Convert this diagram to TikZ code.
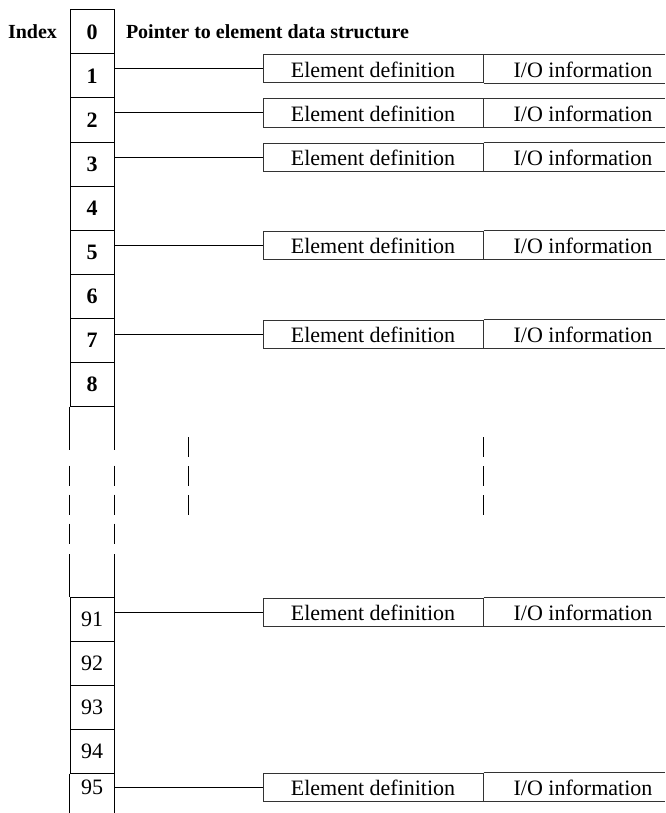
\documentclass[tikz,border=0pt]{standalone}
\usepackage{fontspec}
\setmainfont{Liberation Serif}
\usetikzlibrary{positioning}
\tikzset{
cell/.style = {draw, rectangle, minimum width=22pt, minimum height=22pt, inner sep=0pt, font=\fontsize{11}{13}\selectfont\bfseries},
opencell/.style = {rectangle, minimum width=22pt, minimum height=20pt, inner sep=0pt, font=\fontsize{11}{13}\selectfont},
head/.style = {inner sep=0pt, font=\fontsize{10}{12}\selectfont\bfseries},
defbox/.style = {draw=black!80, rectangle, minimum width=110pt, minimum height=14pt, inner sep=0pt, text height=2ex, text depth=0.1ex, font=\fontsize{11}{13}\selectfont},
iobox/.style = {rectangle, minimum width=99pt, minimum height=14pt, inner sep=0pt, text height=2ex, text depth=0.1ex, font=\fontsize{11}{13}\selectfont},
boxline/.style = {draw=black!80},
gapline/.style = {dash pattern=on 10pt off 4.5pt},
}

\begin{document}
\begin{tikzpicture}[x=0.5pt,y=-0.5pt,line width=0.5pt]
        \useasboundingbox (0,0) rectangle (665,813);
        \coordinate (edge) at (665,0);

        % index table, top part
        \node [cell] (c0) at (92,32) {0};
        \node [head, left=6pt of c0] (index) {Index};
        \node [head, right=5.5pt of c0] (ptr) {Pointer to element data structure};
        \node [cell] (c1) at (92,76) {1};
        \node [cell] (c2) at (92,120) {2};
        \node [cell] (c3) at (92,164) {3};
        \node [cell] (c4) at (92,208) {4};
        \node [cell] (c5) at (92,252) {5};
        \node [cell] (c6) at (92,296) {6};
        \node [cell] (c7) at (92,340) {7};
        \node [cell] (c8) at (92,384) {8};

        % index table, bottom part
        \node [cell, font=\fontsize{11}{13}\selectfont] (c91) at (92,619) {91};
        \node [cell, font=\fontsize{11}{13}\selectfont] (c92) at (92,663) {92};
        \node [cell, font=\fontsize{11}{13}\selectfont] (c93) at (92,707) {93};
        \node [cell, font=\fontsize{11}{13}\selectfont] (c94) at (92,751) {94};
        \node [opencell] (c95) at (92,787) {95};

        % column between 8 and 91
        \draw (c8.south west) -- ++(0,43) (c8.south east) -- ++(0,43);
        \draw[gapline] (c8.south west) ++(0,59) -- ++(0,80);
        \draw[gapline] (c8.south east) ++(0,59) -- ++(0,80);
        \draw (c91.north west) -- ++(0,-43) (c91.north east) -- ++(0,-43);
        % open end below 95
        \draw (c94.south west) -- ++(0,41) (c94.south east) -- ++(0,41);

        % element records
        \node [defbox, right=74pt of c1, yshift=3.5pt] (d1) {Element definition};
        \node [iobox, right=0pt of d1] (o1) {I/O information};
        \node [defbox, right=74pt of c2, yshift=3.5pt] (d2) {Element definition};
        \node [iobox, right=0pt of d2] (o2) {I/O information};
        \node [defbox, right=74pt of c3, yshift=3.5pt] (d3) {Element definition};
        \node [iobox, right=0pt of d3] (o3) {I/O information};
        \node [defbox, right=74pt of c5, yshift=3.5pt] (d5) {Element definition};
        \node [iobox, right=0pt of d5] (o5) {I/O information};
        \node [defbox, right=74pt of c7, yshift=3pt] (d7) {Element definition};
        \node [iobox, right=0pt of d7] (o7) {I/O information};
        \node [defbox, right=74pt of c91, yshift=3.5pt] (d91) {Element definition};
        \node [iobox, right=0pt of d91] (o91) {I/O information};
        \node [defbox, right=74pt of c95] (d95) {Element definition};
        \node [iobox, right=0pt of d95] (o95) {I/O information};

        %I/O part runs off to the right
        \foreach \r in {1,2,3,5,7,91,95}{
          \draw[boxline] (o\r.north west) -- (o\r.north west -| edge);
          \draw[boxline] (o\r.south west) -- (o\r.south west -| edge);
        }

        %pointers
        \draw (c1.east |- d1.west) -- (d1.west);
        \draw (c2.east |- d2.west) -- (d2.west);
        \draw (c3.east |- d3.west) -- (d3.west);
        \draw (c5.east |- d5.west) -- (d5.west);
        \draw (c7.east |- d7.west) -- (d7.west);
        \draw (c91.east |- d91.west) -- (d91.west);
        \draw (c95.east |- d95.west) -- (d95.west);

        % elided rows
        \draw[gapline] (188,437) -- (188,515);
        \draw[gapline] (483,437) -- (483,515);
\end{tikzpicture}
\end{document}
